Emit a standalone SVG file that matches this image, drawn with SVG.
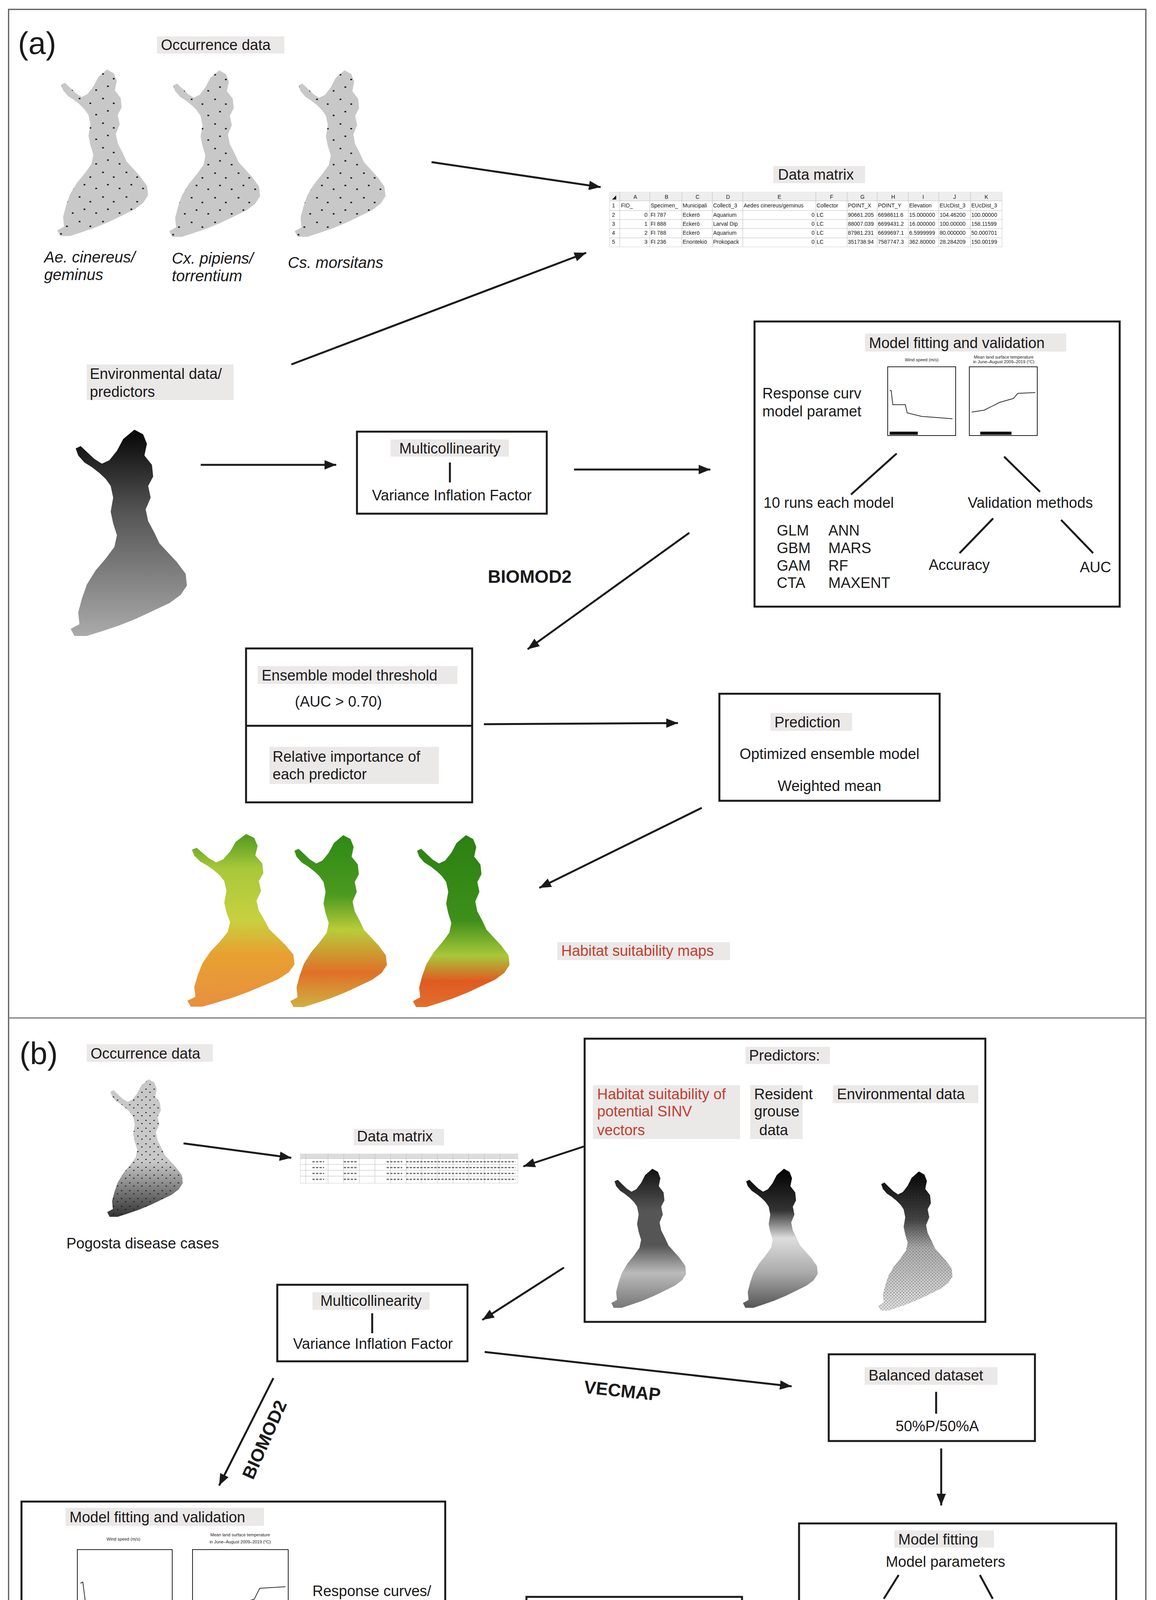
<svg xmlns="http://www.w3.org/2000/svg" width="2960" height="5432" viewBox="0 0 2960 5432">
<style>
text{font-family:"Liberation Sans",Arial,sans-serif;fill:#1a1a1a}
.t{font-size:38px}
.it{font-size:40px;font-style:italic}
.big{font-size:80px}
.bold{font-size:46px;font-weight:bold}
.red{fill:#c43c2c}
.lbl{fill:#ebe8e8}
.box{fill:none;stroke:#1a1a1a;stroke-width:5}
.ln{fill:none;stroke:#1a1a1a;stroke-width:5}
.ar{fill:none;stroke:#1a1a1a;stroke-width:5;marker-end:url(#ah)}
.tb{font-size:14px}
.grid{fill:none;stroke:#bbb;stroke-width:1}
.pf{fill:none;stroke:#222;stroke-width:2}
.cv{fill:none;stroke:#333;stroke-width:2}
.tiny{font-size:11px}
.mid{text-anchor:middle}
</style>
<defs>
<marker id="ah" viewBox="0 0 30 24" refX="30" refY="12" markerWidth="30" markerHeight="24" markerUnits="userSpaceOnUse" orient="auto"><path d="M0 0 L30 12 L0 24 Z" fill="#1a1a1a"/></marker>
<symbol id="fin" viewBox="0 0 100 180" preserveAspectRatio="none"><path d="M56 0 L63 4 L66 12 L64 22 L70 30 L71 40 L67 48 L69 58 L65 68 L67 78 L72 88 L76 97 L83 105 L90 113 L97 123 L98 133 L93 141 L84 148 L72 154 L58 161 L44 167 L30 172 L18 176 L8 176 L5 170 L12 166 L11 156 L14 144 L18 132 L25 120 L33 110 L40 100 L42 90 L39 80 L37 70 L39 58 L37 48 L33 42 L28 37 L22 32 L16 28 L11 22 L9 16 L13 14 L18 19 L24 25 L30 29 L36 26 L42 18 L47 8 Z"/></symbol>
<pattern id="dots" width="24" height="26" patternUnits="userSpaceOnUse"><rect x="3" y="4" width="1.8" height="1.4" fill="#111"/><rect x="14" y="9" width="1.8" height="1.4" fill="#111"/><rect x="8" y="17" width="1.8" height="1.4" fill="#111"/><rect x="20" y="21" width="1.8" height="1.4" fill="#111"/></pattern>
<pattern id="dots2" width="10" height="10" patternUnits="userSpaceOnUse"><rect x="2" y="2" width="1.6" height="1.2" fill="#111"/><rect x="7" y="6" width="1.6" height="1.2" fill="#111"/></pattern>
<linearGradient id="gOcc" x1="0" y1="0" x2="0" y2="1"><stop offset="0" stop-color="#c8c8c8"/><stop offset="0.6" stop-color="#c8c8c8"/><stop offset="0.85" stop-color="#6a6a6a"/><stop offset="1" stop-color="#333"/></linearGradient>
<pattern id="spk" width="4" height="4" patternUnits="userSpaceOnUse"><rect x="0.5" y="1" width="0.8" height="0.8" fill="#333"/><rect x="2.6" y="3" width="0.8" height="0.8" fill="#444"/></pattern>
<linearGradient id="gEnv" x1="0" y1="0" x2="0" y2="1"><stop offset="0" stop-color="#050505"/><stop offset="0.4" stop-color="#555"/><stop offset="1" stop-color="#aaa"/></linearGradient>
<linearGradient id="gP1" x1="0" y1="0" x2="0" y2="1"><stop offset="0" stop-color="#111"/><stop offset="0.3" stop-color="#555"/><stop offset="0.55" stop-color="#555"/><stop offset="0.75" stop-color="#bbb"/><stop offset="1" stop-color="#777"/></linearGradient>
<linearGradient id="gP2" x1="0" y1="0" x2="0" y2="1"><stop offset="0" stop-color="#000"/><stop offset="0.3" stop-color="#333"/><stop offset="0.5" stop-color="#ddd"/><stop offset="0.75" stop-color="#aaa"/><stop offset="1" stop-color="#555"/></linearGradient>
<linearGradient id="gP3" x1="0" y1="0" x2="0" y2="1"><stop offset="0" stop-color="#000"/><stop offset="0.35" stop-color="#444"/><stop offset="0.55" stop-color="#aaa"/><stop offset="1" stop-color="#ddd"/></linearGradient>
<linearGradient id="gH1" x1="0" y1="0" x2="0" y2="1"><stop offset="0" stop-color="#4f9a1e"/><stop offset="0.2" stop-color="#a8c83a"/><stop offset="0.5" stop-color="#c8d040"/><stop offset="0.7" stop-color="#e8a030"/><stop offset="1" stop-color="#e89040"/></linearGradient>
<linearGradient id="gH2" x1="0" y1="0" x2="0" y2="1"><stop offset="0" stop-color="#2e8a14"/><stop offset="0.35" stop-color="#4c9a20"/><stop offset="0.55" stop-color="#b8cc3a"/><stop offset="0.8" stop-color="#e07028"/><stop offset="1" stop-color="#d0b040"/></linearGradient>
<linearGradient id="gH3" x1="0" y1="0" x2="0" y2="1"><stop offset="0" stop-color="#2a8012"/><stop offset="0.5" stop-color="#3e901a"/><stop offset="0.7" stop-color="#a8c83a"/><stop offset="0.85" stop-color="#e05a20"/><stop offset="1" stop-color="#e07030"/></linearGradient>
<linearGradient id="gB" x1="0" y1="0" x2="0" y2="1"><stop offset="0" stop-color="#3a8a18"/><stop offset="0.35" stop-color="#6aa828"/><stop offset="0.45" stop-color="#e0d030"/><stop offset="0.55" stop-color="#e86020"/><stop offset="0.78" stop-color="#e85a20"/><stop offset="0.84" stop-color="#2e8a18"/><stop offset="1" stop-color="#1f7010"/></linearGradient>
</defs>

<rect x="0" y="0" width="2960" height="5432" fill="#fff"/>
<rect x="22" y="24" width="2912" height="5387" fill="none" stroke="#555" stroke-width="3"/>
<line x1="22" y1="2606" x2="2934" y2="2606" stroke="#777" stroke-width="3"/>

<!-- Panel a -->
<g id="a-label"><text class="big" x="46" y="138">(a)</text></g>
<g id="a-occ">
<rect class="lbl" x="402" y="93" width="326" height="44"/><text class="t" x="412" y="128">Occurrence data</text>
<use href="#fin" x="134" y="178" width="250" height="436" fill="#c8c8c8"/><use href="#fin" x="134" y="178" width="250" height="436" fill="url(#dots)"/>
<use href="#fin" x="421" y="180" width="250" height="436" fill="#c8c8c8"/><use href="#fin" x="421" y="180" width="250" height="436" fill="url(#dots)"/>
<use href="#fin" x="742" y="180" width="250" height="436" fill="#c8c8c8"/><use href="#fin" x="742" y="180" width="250" height="436" fill="url(#dots)"/>
<text class="it" x="113" y="672">Ae. cinereus/</text><text class="it" x="113" y="717">geminus</text>
<text class="it" x="440" y="675">Cx. pipiens/</text><text class="it" x="440" y="720">torrentium</text>
<text class="it" x="737" y="686">Cs. morsitans</text>
</g>
<g id="a-matrix">
<rect class="lbl" x="1980" y="425" width="235" height="44"/><text class="t" x="1992" y="460">Data matrix</text>
<rect x="1561" y="492" width="1005" height="140" fill="#fff" stroke="#ccc"/>
<rect x="1561" y="492" width="1005" height="22" fill="#eee"/>
<g class="grid"><path d="M1587 492V632M1664 492V632M1746 492V632M1824 492V632M1902 492V632M2089 492V632M2169 492V632M2246 492V632M2326 492V632M2404 492V632M2485 492V632M1561 514H2566M1561 539H2566M1561 562H2566M1561 585H2566M1561 609H2566"/></g>
<g class="tb">
<text x="1567" y="509">◢</text><text x="1622" y="509">A</text><text x="1702" y="509">B</text><text x="1781" y="509">C</text><text x="1859" y="509">D</text><text x="1991" y="509">E</text><text x="2125" y="509">F</text><text x="2203" y="509">G</text><text x="2282" y="509">H</text><text x="2362" y="509">I</text><text x="2441" y="509">J</text><text x="2521" y="509">K</text>
<text x="1567" y="531">1</text><text x="1590" y="531">FID_</text><text x="1666" y="531">Specimen_</text><text x="1748" y="531">Municipali</text><text x="1826" y="531">Collecti_3</text><text x="1904" y="531">Aedes cinereus/geminus</text><text x="2091" y="531">Collector</text><text x="2171" y="531">POINT_X</text><text x="2248" y="531">POINT_Y</text><text x="2328" y="531">Elevation</text><text x="2406" y="531">EUcDist_3</text><text x="2487" y="531">EUcDist_3</text>
<text x="1567" y="555">2</text><text x="1650" y="555">0</text><text x="1666" y="555">FI 787</text><text x="1748" y="555">Eckerö</text><text x="1826" y="555">Aquarium</text><text x="2078" y="555">0</text><text x="2091" y="555">LC</text><text x="2171" y="555">90661.205</text><text x="2248" y="555">6698611.6</text><text x="2328" y="555">15.000000</text><text x="2406" y="555">104.46200</text><text x="2487" y="555">100.00000</text>
<text x="1567" y="578">3</text><text x="1650" y="578">1</text><text x="1666" y="578">FI 888</text><text x="1748" y="578">Eckerö</text><text x="1826" y="578">Larval Dip</text><text x="2078" y="578">0</text><text x="2091" y="578">LC</text><text x="2171" y="578">88007.039</text><text x="2248" y="578">6699431.2</text><text x="2328" y="578">16.000000</text><text x="2406" y="578">100.00000</text><text x="2487" y="578">158.11599</text>
<text x="1567" y="601">4</text><text x="1650" y="601">2</text><text x="1666" y="601">FI 788</text><text x="1748" y="601">Eckerö</text><text x="1826" y="601">Aquarium</text><text x="2078" y="601">0</text><text x="2091" y="601">LC</text><text x="2171" y="601">87981.231</text><text x="2248" y="601">6699697.1</text><text x="2328" y="601">6.5999999</text><text x="2406" y="601">80.000000</text><text x="2487" y="601">50.000701</text>
<text x="1567" y="624">5</text><text x="1650" y="624">3</text><text x="1666" y="624">FI 236</text><text x="1748" y="624">Enontekiö</text><text x="1826" y="624">Prokopack</text><text x="2078" y="624">0</text><text x="2091" y="624">LC</text><text x="2171" y="624">351738.94</text><text x="2248" y="624">7587747.3</text><text x="2328" y="624">362.80000</text><text x="2406" y="624">28.284209</text><text x="2487" y="624">150.00199</text>
</g>
</g>
<g id="a-env">
<rect class="lbl" x="222" y="933" width="376" height="91"/><text class="t" x="230" y="970">Environmental data/</text><text class="t" x="230" y="1016">predictors</text>
<use href="#fin" x="165" y="1100" width="320" height="540" fill="url(#gEnv)"/>
</g>
<g id="a-multi">
<rect class="box" x="914" y="1105" width="486" height="210"/>
<rect class="lbl" x="1000" y="1125" width="303" height="44"/><text class="t mid" x="1152" y="1161">Multicollinearity</text>
<line class="ln" x1="1152" y1="1184" x2="1152" y2="1235"/>
<text class="t mid" x="1157" y="1281">Variance Inflation Factor</text>
</g>
<g id="a-model">
<rect class="box" x="1932" y="823" width="935" height="730"/>
<rect class="lbl" x="2215" y="854" width="515" height="46"/><text class="t" x="2225" y="891">Model fitting and validation</text>
<text class="t" x="1952" y="1020">Response curv</text><text class="t" x="1952" y="1066">model paramet</text>
<text class="tiny mid" x="2360" y="925">Wind speed (m/s)</text><text class="tiny mid" x="2570" y="918">Mean land surface temperature</text><text class="tiny mid" x="2570" y="930">in June–August 2009–2019 (°C)</text>
<rect class="pf" x="2273" y="939" width="174" height="176"/><rect class="pf" x="2482" y="939" width="174" height="176"/>
<path class="cv" d="M2278 999L2282 1000L2286 1036L2318 1036L2323 1057L2360 1066L2439 1072"/>
<path class="cv" d="M2488 1055L2520 1050L2560 1030L2595 1020L2606 1007L2651 1005"/>
<path d="M2278 1109H2350M2510 1109H2590" stroke="#111" stroke-width="8"/>
<text class="t" x="1955" y="1300">10 runs each model</text><text class="t" x="2478" y="1300">Validation methods</text>
<line class="ln" x1="2296" y1="1161" x2="2179" y2="1266"/><line class="ln" x1="2571" y1="1169" x2="2663" y2="1259"/>
<line class="ln" x1="2543" y1="1327" x2="2457" y2="1416"/><line class="ln" x1="2717" y1="1331" x2="2799" y2="1416"/>
<text class="t" x="1989" y="1371">GLM</text><text class="t" x="2121" y="1371">ANN</text>
<text class="t" x="1989" y="1416">GBM</text><text class="t" x="2121" y="1416">MARS</text>
<text class="t" x="1989" y="1461">GAM</text><text class="t" x="2121" y="1461">RF</text>
<text class="t" x="1989" y="1505">CTA</text><text class="t" x="2121" y="1505">MAXENT</text>
<text class="t" x="2378" y="1459">Accuracy</text><text class="t" x="2765" y="1465">AUC</text>
</g>
<g id="a-biomod"><text class="bold" x="1249" y="1492">BIOMOD2</text></g>
<g id="a-ensemble">
<rect class="box" x="630" y="1660" width="579" height="394"/><line class="ln" x1="630" y1="1858" x2="1209" y2="1858"/>
<rect class="lbl" x="660" y="1705" width="511" height="46"/><text class="t" x="670" y="1742">Ensemble model threshold</text>
<text class="t" x="755" y="1809">(AUC &gt; 0.70)</text>
<rect class="lbl" x="690" y="1912" width="434" height="95"/><text class="t" x="698" y="1950">Relative importance of</text><text class="t" x="698" y="1995">each predictor</text>
</g>
<g id="a-prediction">
<rect class="box" x="1842" y="1776" width="564" height="274"/>
<rect class="lbl" x="1973" y="1825" width="209" height="46"/><text class="t" x="1983" y="1862">Prediction</text>
<text class="t mid" x="2124" y="1943">Optimized ensemble model</text>
<text class="t mid" x="2124" y="2025">Weighted mean</text>
</g>
<g id="a-maps">
<use href="#fin" x="465" y="2135" width="295" height="452" fill="url(#gH1)"/>
<use href="#fin" x="730" y="2138" width="266" height="450" fill="url(#gH2)"/>
<use href="#fin" x="1044" y="2138" width="266" height="450" fill="url(#gH3)"/>
<rect class="lbl" x="1427" y="2412" width="442" height="46"/><text class="t red" x="1437" y="2447">Habitat suitability maps</text>
</g>

<!-- Panel b -->
<g id="b-label"><text class="big" x="50" y="2724">(b)</text></g>
<g id="b-occ">
<rect class="lbl" x="222" y="2673" width="323" height="45"/><text class="t" x="232" y="2710">Occurrence data</text>
<use href="#fin" x="264" y="2763" width="208" height="360" fill="url(#gOcc)"/>
<use href="#fin" x="264" y="2763" width="208" height="360" fill="url(#dots2)"/>
<text class="t" x="170" y="3196">Pogosta disease cases</text>
</g>
<g id="b-matrix">
<rect class="lbl" x="906" y="2890" width="231" height="42"/><text class="t" x="914" y="2922">Data matrix</text>
<rect x="769" y="2954" width="557" height="75" fill="#fff" stroke="#ccc"/>
<rect x="769" y="2954" width="557" height="12" fill="#ddd"/>
<g class="grid"><path d="M769 2966H1326M769 2981H1326M769 2996H1326M769 3011H1326M783 2954V3029M840 2954V3029M880 2954V3029M920 2954V3029M960 2954V3029M1000 2954V3029M1040 2954V3029M1080 2954V3029M1120 2954V3029M1160 2954V3029M1200 2954V3029M1240 2954V3029M1280 2954V3029"/></g>
<path d="M800 2974H830M880 2974H915M990 2974H1030M1040 2974H1320M800 2989H830M880 2989H915M990 2989H1030M1040 2989H1320M800 3004H830M880 3004H915M990 3004H1030M1040 3004H1320M800 3019H830M880 3019H915M990 3019H1030M1040 3019H1320" stroke="#666" stroke-width="3" stroke-dasharray="6 3"/>
</g>
<g id="b-predictors">
<rect class="box" x="1497" y="2659" width="1026" height="725"/>
<rect class="lbl" x="1909" y="2680" width="216" height="44"/><text class="t" x="1918" y="2715">Predictors:</text>
<rect class="lbl" x="1518" y="2778" width="377" height="138"/>
<text class="t red" x="1529" y="2814">Habitat suitability of</text><text class="t red" x="1529" y="2858">potential SINV</text><text class="t red" x="1529" y="2906">vectors</text>
<rect class="lbl" x="1921" y="2778" width="134" height="138"/>
<text class="t" x="1931" y="2814">Resident</text><text class="t" x="1931" y="2858">grouse</text><text class="t" x="1944" y="2906">data</text>
<rect class="lbl" x="2133" y="2778" width="372" height="46"/><text class="t" x="2143" y="2814">Environmental data</text>
<use href="#fin" x="1555" y="2992" width="206" height="364" fill="url(#gP1)"/>
<use href="#fin" x="1892" y="2992" width="206" height="364" fill="url(#gP2)"/>
<use href="#fin" x="2238" y="2999" width="205" height="364" fill="url(#gP3)"/>
<use href="#fin" x="2238" y="2999" width="205" height="364" fill="url(#spk)"/>
</g>
<g id="b-multi">
<rect class="box" x="710" y="3289" width="487" height="196"/>
<rect class="lbl" x="800" y="3308" width="300" height="45"/><text class="t mid" x="950" y="3343">Multicollinearity</text>
<line class="ln" x1="953" y1="3362" x2="953" y2="3413"/>
<text class="t mid" x="955" y="3453">Variance Inflation Factor</text>
</g>
<g id="b-vecmap"><text class="bold" transform="translate(1494 3566) rotate(6)">VECMAP</text></g>
<g id="b-biomod"><text class="bold" transform="translate(648 3790) rotate(-66)">BIOMOD2</text></g>
<g id="b-balanced">
<rect class="box" x="2122" y="3467" width="528" height="222"/>
<rect class="lbl" x="2214" y="3500" width="340" height="45"/><text class="t" x="2224" y="3534">Balanced dataset</text>
<line class="ln" x1="2397" y1="3563" x2="2397" y2="3619"/>
<text class="t mid" x="2400" y="3664">50%P/50%A</text>
</g>
<g id="b-model">
<rect class="box" x="55" y="3844" width="1085" height="809"/>
<rect class="lbl" x="168" y="3860" width="508" height="46"/><text class="t" x="178" y="3897">Model fitting and validation</text>
<text class="tiny mid" x="316" y="3944">Wind speed (m/s)</text>
<text class="tiny mid" x="615" y="3933">Mean land surface temperature</text><text class="tiny mid" x="615" y="3951">in June–August 2009–2019 (°C)</text>
<rect class="pf" x="198" y="3967" width="243" height="253"/><rect class="pf" x="493" y="3967" width="245" height="253"/>
<path class="cv" d="M206 4053L212 4050L219 4104L226 4110L255 4110L262 4117L269 4136L293 4145L350 4152L434 4158"/>
<path class="cv" d="M500 4136L566 4126L595 4110L651 4094L665 4066L731 4062"/>
<path d="M204 4213H320M540 4213H680" stroke="#111" stroke-width="8"/>
<g class="tiny"><text x="195" y="4244">10</text><text x="232" y="4244">15</text><text x="270" y="4244">20</text><text x="308" y="4244">25</text><text x="346" y="4244">30</text><text x="384" y="4244">35</text><text x="422" y="4244">40</text>
<text x="510" y="4244">14</text><text x="552" y="4244">16</text><text x="594" y="4244">18</text><text x="636" y="4244">20</text><text x="678" y="4244">22</text><text x="720" y="4244">24</text></g>
<text class="t" x="800" y="4086">Response curves/</text><text class="t" x="800" y="4131">model parameters</text>
<line class="ln" x1="313" y1="4266" x2="206" y2="4365"/><line class="ln" x1="623" y1="4279" x2="706" y2="4381"/>
<text class="t" x="76" y="4429">50 runs each model</text><text class="t" x="530" y="4429">Validation methods</text>
<line class="ln" x1="639" y1="4442" x2="579" y2="4518"/><line class="ln" x1="758" y1="4443" x2="828" y2="4518"/>
<text class="t" x="87" y="4499">GLM</text><text class="t" x="222" y="4499">ANN</text>
<text class="t" x="87" y="4545">GBM</text><text class="t" x="222" y="4545">MARS</text>
<text class="t" x="87" y="4589">GAM</text><text class="t" x="222" y="4589">RF</text>
<text class="t" x="87" y="4637">CTA</text><text class="t" x="222" y="4637">MAXENT</text>
<text class="t" x="500" y="4562">Accuracy</text><text class="t" x="800" y="4565">AUC</text>
</g>
<g id="b-ensemble">
<rect class="box" x="1348" y="4088" width="552" height="303"/><line class="ln" x1="1348" y1="4246" x2="1900" y2="4246"/>
<rect class="lbl" x="1376" y="4121" width="506" height="46"/><text class="t" x="1386" y="4158">Ensemble model threshold</text>
<text class="t" x="1493" y="4215">(AUC &gt; 0.70)</text>
<rect class="lbl" x="1394" y="4272" width="432" height="93"/><text class="t" x="1404" y="4308">Relative importance of</text><text class="t" x="1404" y="4353">each predictor</text>
</g>
<g id="b-modelfit">
<rect class="box" x="2046" y="3900" width="812" height="591"/>
<rect class="lbl" x="2290" y="3918" width="255" height="44"/><text class="t" x="2300" y="3954">Model fitting</text>
<text class="t mid" x="2421" y="4011">Model parameters</text>
<line class="ln" x1="2301" y1="4032" x2="2263" y2="4093"/><line class="ln" x1="2509" y1="4032" x2="2542" y2="4093"/>
<text class="t mid" x="2256" y="4138">GLM</text><text class="t" x="2532" y="4138">RF</text>
<line class="ln" x1="2211" y1="4148" x2="2177" y2="4180"/><line class="ln" x1="2278" y1="4152" x2="2317" y2="4196"/>
<line class="ln" x1="2551" y1="4148" x2="2474" y2="4270"/><line class="ln" x1="2577" y1="4138" x2="2636" y2="4176"/>
<text class="t mid" x="2152" y="4241">100</text><text class="t" x="2072" y="4289">bootsraps</text><text class="t" x="2263" y="4235">binomial</text>
<text class="t" x="2617" y="4225">Prediction</text><text class="t" x="2617" y="4270">forest :</text><text class="t" x="2617" y="4317">100 trees</text>
<text class="t" x="2417" y="4317">Variable</text><text class="t" x="2417" y="4362">reduction</text><text class="t" x="2417" y="4407">forest :</text><text class="t" x="2417" y="4455">500 trees</text>
</g>
<g id="b-validation">
<rect class="box" x="2419" y="4612" width="493" height="123"/>
<rect class="lbl" x="2431" y="4634" width="319" height="46"/><text class="t" x="2441" y="4669">Model validation</text>
<text class="t" x="2504" y="4720">Accuracy</text>
<line class="ln" x1="2762" y1="4674" x2="2806" y2="4674"/><text class="t" x="2813" y="4690">AUC</text>
</g>
<g id="b-varimp">
<rect class="box" x="1875" y="4760" width="440" height="90"/>
<rect class="lbl" x="1898" y="4789" width="394" height="46"/><text class="t" x="1908" y="4824">Variable importance</text>
</g>
<g id="b-prediction2">
<rect class="box" x="2449" y="4907" width="310" height="73"/>
<rect class="lbl" x="2507" y="4920" width="205" height="45"/><text class="t" x="2517" y="4955">Prediction</text>
</g>
<g id="b-prediction">
<rect class="box" x="970" y="4779" width="579" height="245"/>
<rect class="lbl" x="1131" y="4802" width="202" height="46"/><text class="t" x="1141" y="4839">Prediction</text>
<text class="t mid" x="1246" y="4910">Weighted mean</text>
<text class="t" x="1015" y="4985">Optimized ensemble model</text>
</g>
<g id="b-maps-left">
<rect class="lbl" x="257" y="4885" width="315" height="46"/><text class="t" x="267" y="4922">Predictive maps</text>
<use href="#fin" x="274" y="4979" width="198" height="344" fill="url(#gB)"/>
</g>
<g id="b-maps-right">
<text class="t mid" x="1796" y="4986">GLM</text><text class="t mid" x="2110" y="4986">RF</text>
<use href="#fin" x="1683" y="5014" width="203" height="342" fill="url(#gB)"/>
<use href="#fin" x="1990" y="5014" width="212" height="342" fill="url(#gB)"/>
<rect class="lbl" x="2323" y="5192" width="313" height="46"/><text class="t" x="2333" y="5228">Predictive maps</text>
</g>

<g id="connectors">
<line class="ar" x1="1105" y1="415" x2="1538" y2="479"/>
<line class="ar" x1="746" y1="933" x2="1501" y2="647"/>
<line class="ar" x1="514" y1="1190" x2="861" y2="1190"/>
<line class="ar" x1="1470" y1="1202" x2="1819" y2="1202"/>
<line class="ar" x1="1765" y1="1364" x2="1351" y2="1662"/>
<line class="ar" x1="1239" y1="1854" x2="1736" y2="1851"/>
<line class="ar" x1="1797" y1="2068" x2="1381" y2="2273"/>
<line class="ar" x1="470" y1="2927" x2="746" y2="2964"/>
<line class="ar" x1="1495" y1="2935" x2="1340" y2="2986"/>
<line class="ar" x1="1444" y1="3245" x2="1235" y2="3379"/>
<line class="ar" x1="1241" y1="3461" x2="2027" y2="3549"/>
<line class="ar" x1="700" y1="3528" x2="561" y2="3803"/>
<line class="ar" x1="2410" y1="3708" x2="2410" y2="3854"/>
<line class="ar" x1="1178" y1="4249" x2="1319" y2="4249"/>
<line class="ar" x1="1425" y1="4429" x2="1236" y2="4725"/>
<line class="ar" x1="917" y1="4916" x2="497" y2="5108"/>
<line class="ar" x1="2547" y1="4521" x2="2592" y2="4592"/>
<line class="ar" x1="2400" y1="4669" x2="2273" y2="4744"/>
<line class="ar" x1="2327" y1="4853" x2="2438" y2="4924"/>
<line class="ar" x1="2400" y1="5001" x2="2246" y2="5087"/>
</g>
</svg>
